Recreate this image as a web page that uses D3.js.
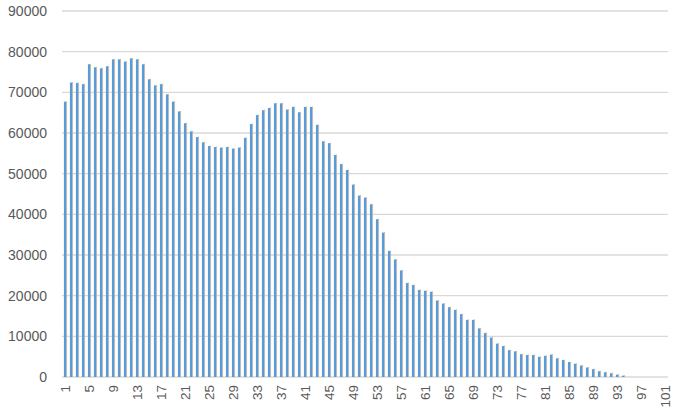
<!DOCTYPE html>
<html><head><meta charset="utf-8">
<script src="https://cdn.jsdelivr.net/npm/d3@7"></script>
<style>body{margin:0;background:#fff}svg{display:block}text{font-family:"Liberation Sans",Arial,sans-serif;fill:#595959}</style>
</head><body><svg id="c" width="680" height="420"></svg>
<script>
const categories = d3.range(1, 102);
const values = [
67700,72400,72300,72000,76900,76150,75900,76400,78100,78100,
77550,78350,78100,76900,73200,71700,72000,69500,67700,65300,
62400,60400,59000,57700,56800,56550,56400,56550,56150,56400,
58800,62200,64400,65600,66150,67300,67300,65750,66400,65100,
66400,66400,62000,57950,57500,54600,52350,50900,47300,44600,
44100,42450,38800,35500,31000,28900,26200,23100,22600,21400,
21200,20950,18800,18050,17150,16500,15450,14050,14050,11950,
10800,9700,8200,7600,6600,6300,5600,5400,5400,4950,
5200,5500,4580,4170,3670,3250,2830,2330,1920,1420,
1170,920,580,330,0,0,0,0,0,0,0];
const yTicks = [0,10000,20000,30000,40000,50000,60000,70000,80000,90000];
const xTickLabels = categories.filter((d,i)=> i % 4 === 0);

const svg = d3.select("#c");
const x = d3.scaleBand().domain(categories).range([62, 668]).paddingInner(0.64).paddingOuter(0.32);
const y = d3.scaleLinear().domain([0, 90000]).range([377, 11]);

// gridlines
svg.append("g").selectAll("line").data(yTicks).join("line")
  .attr("x1", 62).attr("x2", 668)
  .attr("y1", d => y(d)).attr("y2", d => y(d))
  .attr("stroke", "#d9d9d9").attr("stroke-width", 1.3);

// y labels
svg.append("g").selectAll("text").data(yTicks).join("text")
  .attr("x", 47).attr("y", d => y(d)).attr("dy", "0.35em")
  .attr("text-anchor", "end").style("font-size", "14px").text(d => d);

// shadows
svg.append("g").selectAll("rect").data(values).join("rect")
  .attr("x", (d,i) => x(categories[i]) + x.bandwidth() - 0.3)
  .attr("y", d => y(d) - 0.5)
  .attr("width", 1.3)
  .attr("height", d => d > 0 ? y(0) - y(d) + 0.5 : 0)
  .attr("fill", "#b0b0b0").attr("opacity", 0.8);

// bars
svg.append("g").selectAll("rect").data(values).join("rect")
  .attr("x", (d,i) => x(categories[i]))
  .attr("y", d => y(d))
  .attr("width", x.bandwidth())
  .attr("height", d => y(0) - y(d))
  .attr("fill", "#5b9bd5");

// x labels
svg.append("g").selectAll("text").data(xTickLabels).join("text")
  .attr("transform", d => `translate(${x(d) + x.bandwidth()/2},385) rotate(-90)`)
  .attr("text-anchor", "end").attr("dy", "0.35em")
  .style("font-size", "13.5px").text(d => d);
</script></body></html>
